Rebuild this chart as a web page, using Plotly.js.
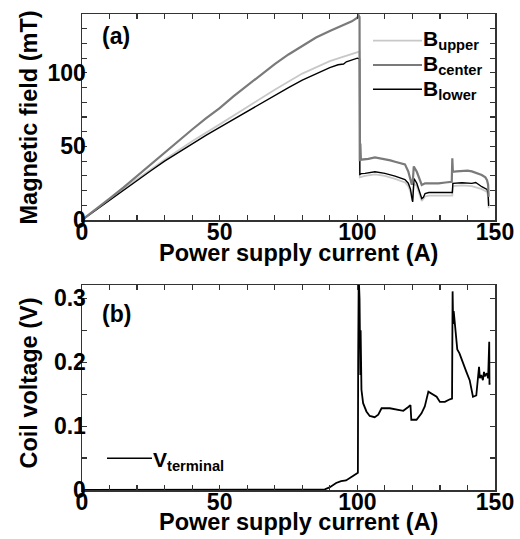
<!DOCTYPE html>
<html>
<head>
<meta charset="utf-8">
<script src="https://cdn.plot.ly/plotly-3.0.1.min.js"></script>
<style>html,body{margin:0;padding:0;background:#fff;}#chart{width:520px;height:539px;}</style>
</head>
<body>
<div id="chart"></div>
<script>
// ---- Data ----
// Panel (a): magnetic field vs power supply current
const currentCenter = [0,5,10,15,20,25,30,35,40,45,50,55,60,65,70,75,80,85,90,95,98,100,100.5,100.8,100.9,101.1,101.3,102.8,104,106.4,108,110,112,113.7,115.5,117.3,118.5,119.5,119.8,120.2,120.5,121.6,122.5,123.4,124.6,126,129.5,132,134.3,134.5,134.7,136,138,140,141.6,143,145.2,146.5,147.1,147.5,147.7];
const bCenter      = [0,7,14.5,22,30,37.5,45.5,53.5,61.5,69,76,84,91.5,99,106,112.5,118.5,124,128.5,132.5,135,137.5,139,138,40,52,41,41.2,41.5,42.5,42,41.2,40.5,39.6,38.8,37.8,33,27,24,28,36.4,32.8,28,23.8,24.9,24.9,24.9,25.5,26,42,32.8,33,33.5,33.5,33,32,30.6,29,27.1,24,15.7];

const currentLower = [0,5,10,15,20,25,30,35,40,45,50,55,60,65,70,75,80,85,90,93,95,96,98,100,100.8,100.9,101.5,102.8,106.4,110,113.7,117.3,118.5,119.3,119.8,120.1,120.4,120.6,121.6,122.5,123.4,124,124.6,126,129.5,134.5,134.7,138,141.6,143,145.2,147.1,147.5,147.7];
const bLower       = [0,6.8,13.7,20.5,27,33.5,40,46,52,57.5,63,68.5,74,79.5,85,90,95,99.5,103.5,105.5,106,107.5,108.5,110,109.5,31,31.5,31.7,32.8,31.7,29.8,27.5,25,21,15,12.3,22,28.2,24.9,20,14.6,15.5,18,18.7,18.7,18.7,24.9,25.3,24.9,25.5,22.6,20.8,18,9.5];

const currentUpper = [0,10,20,30,40,50,60,70,80,85,90,95,98,100,100.8,100.9,102.8,106.4,110,113.7,117.3,118.5,119.5,120,120.5,121.6,123.4,124.6,126,134.5,134.7,138,141.6,145.2,147.1,147.5,147.7];
const bUpper       = [0,14,27.7,41,53.5,65,77,88.5,99.5,104,108,111,113,114,114.5,29,30,31,30,28,25.5,23,18,13,25,23,13,16,16.5,16.5,23,23.5,23,21,19,16,8];

// Panel (b): coil voltage vs power supply current
const currentV = [0,85,88.2,89.9,92.3,94.1,95.9,98.4,100.2,100.3,100.5,100.8,100.9,101.0,101.1,101.2,101.3,101.5,102.1,103.3,104.5,106.3,107.6,108.8,111.8,114.3,116.7,118.5,119.3,119.6,120.1,121.5,123.3,124.5,125.8,127.6,128.8,130,131.8,133.6,134.4,134.6,134.8,135.0,135.9,136.3,137.1,138.3,139.6,140.8,141.4,142,143.2,143.8,144.2,144.5,145,145.6,146,146.3,147,147.5,147.9,148.0,148.1];
const vTerminal = [0,0,0.001,0.004,0.011,0.014,0.015,0.022,0.027,0.2,0.335,0.30,0.22,0.29,0.18,0.25,0.16,0.157,0.136,0.123,0.116,0.114,0.118,0.128,0.128,0.126,0.124,0.130,0.133,0.110,0.110,0.110,0.120,0.131,0.154,0.149,0.146,0.138,0.138,0.142,0.143,0.311,0.26,0.28,0.235,0.22,0.214,0.199,0.185,0.172,0.157,0.146,0.148,0.172,0.193,0.175,0.18,0.172,0.185,0.178,0.183,0.175,0.232,0.165,0.167];

// Tick labels (major) and minor tick positions
const xTickVals = [0,50,100,150];
const xTickText = ['0','50','100','150'];
const xMinorVals = [10,20,30,40,60,70,80,90,110,120,130,140];
const bTickVals = [0,50,100];
const bTickText = ['0','50','100'];
const bMinorVals = [10,20,30,40,60,70,80,90,110,120,130,140];
const vTickVals = [0,0.1,0.2,0.3];
const vTickText = ['0','0.1','0.2','0.3'];
const vMinorVals = [0.05,0.15,0.25];

// Text
const xTitle = 'Power supply current (A)';
const yTitleA = 'Magnetic field (mT)';
const yTitleB = 'Coil voltage (V)';
const legendA = ['B<sub>upper</sub>','B<sub>center</sub>','B<sub>lower</sub>'];
const legendB = 'V<sub>terminal</sub>';

// ---- Layout helpers ----
const W = 520, H = 539, L = 82, R = 25, T = 14, B = 49;
const px = x => (x - L) / (W - L - R);
const py = y => (H - B - y) / (H - T - B);

const FONT = '"Liberation Sans", Arial, Helvetica, sans-serif';
const colUpper = '#c8c8c8', colCenter = '#7a7a7a', colLower = '#000000';

const traces = [
  {x: currentUpper, y: bUpper, type: 'scatter', mode: 'lines', line: {color: colUpper, width: 1.8}, xaxis: 'x', yaxis: 'y', showlegend: false},
  {x: currentLower, y: bLower, type: 'scatter', mode: 'lines', line: {color: colLower, width: 1.4}, xaxis: 'x', yaxis: 'y', showlegend: false},
  {x: currentCenter, y: bCenter, type: 'scatter', mode: 'lines', line: {color: colCenter, width: 2.2}, xaxis: 'x', yaxis: 'y', showlegend: false},
  {x: currentV, y: vTerminal, type: 'scatter', mode: 'lines', line: {color: '#000', width: 1.8}, xaxis: 'x2', yaxis: 'y2', showlegend: false}
];

const axisCommon = {
  showgrid: false, zeroline: false, showline: true, linecolor: '#333', linewidth: 1.5,
  mirror: 'ticks', ticks: 'inside', ticklen: 5, tickwidth: 1.2, tickcolor: '#333',
  tickfont: {family: FONT, size: 23, color: '#000', weight: 'bold'}, tickmode: 'array'
};
const minorCommon = {ticks: 'inside', ticklen: 5, tickwidth: 1.2, tickcolor: '#333', tickmode: 'array', showgrid: false};

const tf = {family: FONT, size: 23.5, color: '#000', weight: 'bold'};
const lf = {family: FONT, size: 21, color: '#000', weight: 'bold'};

const annotations = [
  {text: '(a)', x: px(116), y: py(36), xref: 'paper', yref: 'paper', showarrow: false, font: {family: FONT, size: 23, color: '#000', weight: 'bold'}, xanchor: 'center', yanchor: 'middle'},
  {text: '(b)', x: px(116.5), y: py(314), xref: 'paper', yref: 'paper', showarrow: false, font: {family: FONT, size: 23, color: '#000', weight: 'bold'}, xanchor: 'center', yanchor: 'middle'},
  {text: xTitle, x: px(298.5), y: py(252.5), xref: 'paper', yref: 'paper', showarrow: false, font: tf, xanchor: 'center', yanchor: 'middle'},
  {text: xTitle, x: px(298), y: py(522), xref: 'paper', yref: 'paper', showarrow: false, font: tf, xanchor: 'center', yanchor: 'middle'},
  {text: yTitleA, x: px(28), y: py(117.5), xref: 'paper', yref: 'paper', showarrow: false, font: tf, textangle: -90, xanchor: 'center', yanchor: 'middle'},
  {text: yTitleB, x: px(28), y: py(383.5), xref: 'paper', yref: 'paper', showarrow: false, font: tf, textangle: -90, xanchor: 'center', yanchor: 'middle'},
  {text: legendA[0], x: px(421), y: py(40), xref: 'paper', yref: 'paper', showarrow: false, font: lf, xanchor: 'left', yanchor: 'middle'},
  {text: legendA[1], x: px(421), y: py(65), xref: 'paper', yref: 'paper', showarrow: false, font: lf, xanchor: 'left', yanchor: 'middle'},
  {text: legendA[2], x: px(421), y: py(90), xref: 'paper', yref: 'paper', showarrow: false, font: lf, xanchor: 'left', yanchor: 'middle'},
  {text: legendB, x: px(151), y: py(461), xref: 'paper', yref: 'paper', showarrow: false, font: lf, xanchor: 'left', yanchor: 'middle'}
];

const shapes = [
  {type: 'line', xref: 'paper', yref: 'paper', x0: px(373), x1: px(422), y0: py(40.7), y1: py(40.7), line: {color: colUpper, width: 1.8}},
  {type: 'line', xref: 'paper', yref: 'paper', x0: px(373), x1: px(422), y0: py(65), y1: py(65), line: {color: colCenter, width: 2.2}},
  {type: 'line', xref: 'paper', yref: 'paper', x0: px(373), x1: px(422), y0: py(89.3), y1: py(89.3), line: {color: colLower, width: 1.4}},
  {type: 'line', xref: 'paper', yref: 'paper', x0: px(107), x1: px(152), y0: py(458.3), y1: py(458.3), line: {color: '#000', width: 1.4}}
];

const layout = {
  width: W, height: H,
  margin: {l: L, r: R, t: T, b: B, pad: 0},
  paper_bgcolor: '#fff', plot_bgcolor: '#fff',
  showlegend: false,
  xaxis: Object.assign({}, axisCommon, {range: [0, 150], domain: [0, 1], anchor: 'y', tickvals: xTickVals, ticktext: xTickText, ticklabelstandoff: -9,
    minor: Object.assign({}, minorCommon, {tickvals: xMinorVals})}),
  yaxis: Object.assign({}, axisCommon, {range: [0, 140], domain: [py(220), 1], anchor: 'x', tickvals: bTickVals, ticktext: bTickText, ticklabelstandoff: -10,
    minor: Object.assign({}, minorCommon, {tickvals: bMinorVals})}),
  xaxis2: Object.assign({}, axisCommon, {range: [0, 150], domain: [0, 1], anchor: 'y2', tickvals: xTickVals, ticktext: xTickText, ticklabelstandoff: -9,
    minor: Object.assign({}, minorCommon, {tickvals: xMinorVals})}),
  yaxis2: Object.assign({}, axisCommon, {range: [0, 0.321], domain: [0, py(285)], anchor: 'x2', tickvals: vTickVals, ticktext: vTickText, ticklabelstandoff: -10,
    minor: Object.assign({}, minorCommon, {tickvals: vMinorVals})}),
  annotations: annotations,
  shapes: shapes
};

Plotly.newPlot('chart', traces, layout, {staticPlot: true, displayModeBar: false});
</script>
</body>
</html>
